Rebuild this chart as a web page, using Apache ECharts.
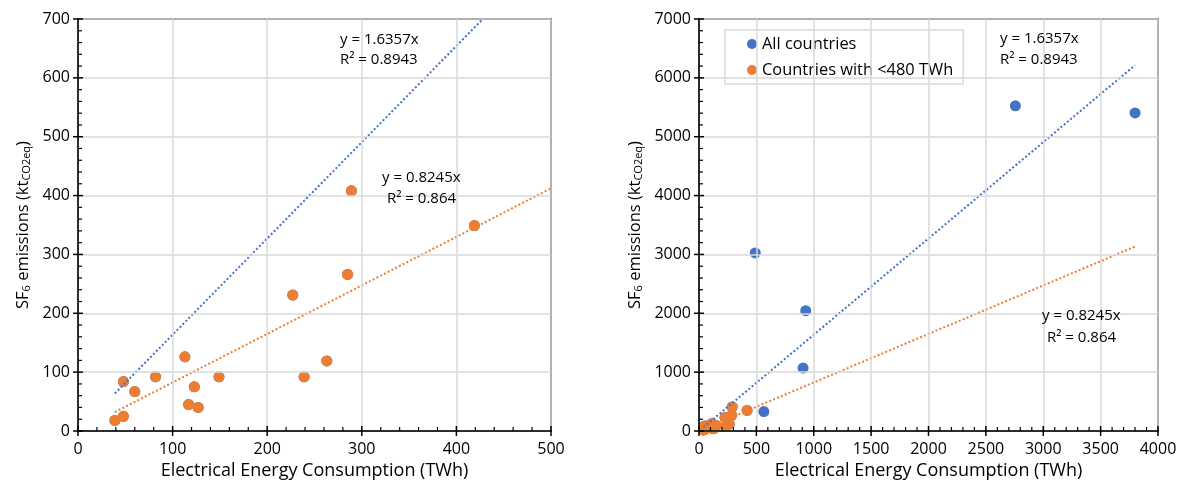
<!DOCTYPE html>
<html>
<head>
<meta charset="utf-8">
<script src="https://cdn.jsdelivr.net/npm/echarts@6/dist/echarts.min.js"></script>
<style>
html,body{margin:0;padding:0;background:#fff;}
#chart{width:1182px;height:492px;}
</style>
</head>
<body>
<div id="chart"></div>
<script>
// ---- data ----
const smallEnergy = [39, 48, 48, 60, 82, 113, 117, 123, 127, 149, 227, 239, 263, 285, 289, 419];
const smallEmissions = [18, 25, 84, 67, 92, 126, 45, 75, 40, 92, 231, 92, 119, 266, 408, 349];
const largeEnergy = [490, 565, 907, 930, 2757, 3800];
const largeEmissions = [3025, 330, 1070, 2045, 5525, 5405];
const seriesNames = ['All countries', 'Countries with <480 TWh'];
const trendSlopes = [1.6357, 0.8245];
const trendR2 = ['0.8943', '0.864'];
const leftXTicks = [0, 500, 100];
const leftYTicks = [0, 700, 100];
const rightXTicks = [0, 4000, 500];
const rightYTicks = [0, 7000, 1000];

const FONT = '"Open Sans"';
const BLUE = '#4472C4';
const ORANGE = '#ED7D31';

const allEnergy = smallEnergy.concat(largeEnergy);
const allEmissions = smallEmissions.concat(largeEmissions);
const allPts = allEnergy.map((x, i) => [x, allEmissions[i]]);
const smallPts = smallEnergy.map((x, i) => [x, smallEmissions[i]]);
const xMinAll = Math.min(...allEnergy);
const xMaxAll = Math.max(...allEnergy);
const trendPts = trendSlopes.map(s => [[xMinAll, s * xMinAll], [xMaxAll, s * xMaxAll]]);

const grids = [
  {left: 78, top: 19, width: 473, height: 412, show: true, borderColor: '#000', borderWidth: 1.5, backgroundColor: 'transparent'},
  {left: 699, top: 19, width: 459, height: 412, show: true, borderColor: '#000', borderWidth: 1.5, backgroundColor: 'transparent'}
];

const yName = '{a|SF}{s|6}{a| emissions (kt}{s|CO2eq}{a|)}';
const nameRich = {
  a: {fontSize: 16.5, fontFamily: FONT, color: '#000', lineHeight: 22, verticalAlign: 'bottom'},
  s: {fontSize: 11, fontFamily: FONT, color: '#000', lineHeight: 12, verticalAlign: 'bottom'}
};

function mainAxis(grid, t, isX, nameGap) {
  const ax = {
    type: 'value', gridIndex: grid, min: t[0], max: t[1], interval: t[2],
    position: isX ? 'bottom' : 'left', z: 5,
    axisLine: {show: true, onZero: false, lineStyle: {color: '#000', width: 1.5}},
    axisTick: {show: false},
    axisLabel: {fontSize: 16, fontFamily: FONT, color: '#000', margin: isX ? 10 : 8,
      formatter: v => String(v)},
    splitLine: {show: true, lineStyle: {color: '#D9D9D9', width: 1.5}},
    nameLocation: 'middle', nameGap: nameGap
  };
  if (isX) {
    ax.name = 'Electrical Energy Consumption (TWh)';
    ax.nameTextStyle = {fontSize: 18, fontFamily: FONT, color: '#000'};
  } else {
    ax.name = yName;
    ax.nameRotate = 90;
    ax.nameTextStyle = {rich: nameRich};
  }
  return ax;
}

// tick marks (major crossing the axis, minor inside), placed through the axes' own scale
function tickSeries(axisIdx, t, other, isX) {
  const data = [];
  const step = t[2] / 5;
  const n = Math.round((t[1] - t[0]) / step);
  for (let k = 0; k <= n; k++) {
    const v = t[0] + k * step;
    const major = k % 5 === 0 ? 1 : 0;
    data.push(isX ? [v, other[0], major] : [other[0], v, major]);
  }
  return {
    type: 'custom', xAxisIndex: axisIdx, yAxisIndex: axisIdx, silent: true, z: 6, clip: false,
    encode: {x: 0, y: 1},
    data: data,
    renderItem: function (params, api) {
      const p = api.coord([api.value(0), api.value(1)]);
      const major = api.value(2) === 1;
      let shape;
      if (isX) {
        shape = {x1: p[0], y1: major ? p[1] + 5 : p[1], x2: p[0], y2: p[1] - (major ? 5 : 4)};
      } else {
        shape = {x1: major ? p[0] - 5 : p[0], y1: p[1], x2: p[0] + (major ? 5 : 4), y2: p[1]};
      }
      return {type: 'line', shape: shape,
        style: {stroke: '#000', lineWidth: major ? 1.5 : 1.2}};
    }
  };
}

function scatter(name, data, color, xi) {
  return {
    type: 'scatter', name: name, xAxisIndex: xi, yAxisIndex: xi,
    data: data, symbol: 'circle', symbolSize: 11,
    itemStyle: {color: color, opacity: 1}, z: 3, clip: true
  };
}
function trend(name, data, color, xi) {
  return {
    type: 'line', name: name + ' trend', xAxisIndex: xi, yAxisIndex: xi,
    data: data, showSymbol: false, symbol: 'none', clip: true, z: 4,
    lineStyle: {color: color, width: 2, type: [2, 2.2]},
    silent: true
  };
}

function label(txt, x, y) {
  return {type: 'text', x: x, y: y - 11, z: 10,
    style: {text: txt, font: '15px ' + FONT, fill: '#000'}};
}

const option = {
  animation: false,
  backgroundColor: '#fff',
  grid: grids,
  xAxis: [
    mainAxis(0, leftXTicks, true, 28),
    mainAxis(1, rightXTicks, true, 28)
  ],
  yAxis: [
    mainAxis(0, leftYTicks, false, 46),
    mainAxis(1, rightYTicks, false, 55)
  ],
  legend: {
    data: seriesNames.map(n => ({name: n, icon: 'circle'})),
    orient: 'vertical', left: 725, top: 30,
    itemWidth: 10, itemHeight: 10, itemGap: 10,
    padding: [6, 10, 6, 22],
    borderColor: '#D9D9D9', borderWidth: 1.5, backgroundColor: '#fff',
    textStyle: {fontSize: 16.4, fontFamily: FONT, color: '#000'},
    selectedMode: false
  },
  series: [
    scatter(seriesNames[0], allPts, BLUE, 0),
    scatter(seriesNames[1], smallPts, ORANGE, 0),
    trend(seriesNames[0], trendPts[0], BLUE, 0),
    trend(seriesNames[1], trendPts[1], ORANGE, 0),
    scatter(seriesNames[0], allPts, BLUE, 1),
    scatter(seriesNames[1], smallPts, ORANGE, 1),
    trend(seriesNames[0], trendPts[0], BLUE, 1),
    trend(seriesNames[1], trendPts[1], ORANGE, 1),
    tickSeries(0, leftXTicks, leftYTicks, true),
    tickSeries(0, leftYTicks, leftXTicks, false),
    tickSeries(1, rightXTicks, rightYTicks, true),
    tickSeries(1, rightYTicks, rightXTicks, false)
  ],
  graphic: [
    label('y = ' + trendSlopes[0] + 'x', 340, 43),
    label('R\u00B2 = ' + trendR2[0], 340, 63),
    label('y = ' + trendSlopes[1] + 'x', 382, 181),
    label('R\u00B2 = ' + trendR2[1], 387, 202),
    label('y = ' + trendSlopes[0] + 'x', 1000, 42),
    label('R\u00B2 = ' + trendR2[0], 1000, 63),
    label('y = ' + trendSlopes[1] + 'x', 1042, 319),
    label('R\u00B2 = ' + trendR2[1], 1047, 341)
  ]
};

const chart = echarts.init(document.getElementById('chart'), null, {renderer: 'canvas'});
chart.setOption(option);
</script>
</body>
</html>
